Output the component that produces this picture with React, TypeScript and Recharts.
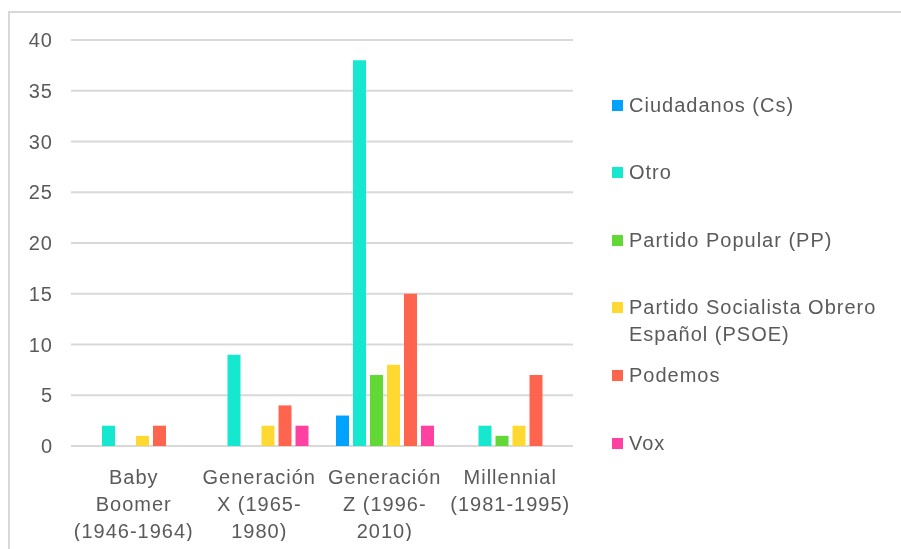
import React from "react";
import { BarChart, Bar, XAxis, YAxis, CartesianGrid } from "recharts";

const generations = [
  ["Baby", "Boomer", "(1946-1964)"],
  ["Generación", "X (1965-", "1980)"],
  ["Generación", "Z (1996-", "2010)"],
  ["Millennial", "(1981-1995)"],
];
const parties = [
  "Ciudadanos (Cs)",
  "Otro",
  "Partido Popular (PP)",
  "Partido Socialista Obrero Español (PSOE)",
  "Podemos",
  "Vox",
];
const partyLines = [
  ["Ciudadanos (Cs)"],
  ["Otro"],
  ["Partido Popular (PP)"],
  ["Partido Socialista Obrero", "Español (PSOE)"],
  ["Podemos"],
  ["Vox"],
];
const colors = ["#00A2FF", "#16E7CF", "#61D836", "#FFD932", "#FF644E", "#FF42A1"];

const ciudadanos = [0, 0, 3, 0];
const otro = [2, 9, 38, 2];
const pp = [0, 0, 7, 1];
const psoe = [1, 2, 8, 2];
const podemos = [2, 4, 15, 7];
const vox = [0, 2, 2, 0];
const yTicks = [0, 5, 10, 15, 20, 25, 30, 35, 40];

const series = [ciudadanos, otro, pp, psoe, podemos, vox];
const data = generations.map((g, i) => {
  const row: Record<string, any> = { name: g.join(" "), idx: i };
  parties.forEach((p, j) => (row[p] = series[j][i]));
  return row;
});

const FONT = "'Liberation Sans', Arial, sans-serif";
const TEXT = "#5a5a5a";

const GenTick = (props: any) => {
  const { x, y, payload } = props;
  const lines = generations[payload.index] ?? [payload.value];
  return (
    <text x={x} y={y} textAnchor="middle" fill={TEXT} fontSize={20} fontFamily={FONT} letterSpacing={1}>
      {lines.map((l, i) => (
        <tspan key={i} x={x} dy={i === 0 ? 30 : 27}>
          {l}
        </tspan>
      ))}
    </text>
  );
};

// legend drawn beside the chart, one item per party
const PartyLegend = () => (
  <div style={{ position: "absolute", left: 604, top: 0, width: 281, height: 533 }}>
    {partyLines.map((lines, i) => {
      const center = 97 + i * 67.6;
      return (
        <div key={i} style={{ position: "absolute", left: 0, top: center - 13.5 }}>
          <div style={{ position: "absolute", left: 0, top: 8, width: 11, height: 11, background: colors[i] }} />
          {lines.map((l, k) => (
            <div
              key={k}
              style={{
                position: "absolute",
                left: 17,
                top: k * 27,
                lineHeight: "27px",
                fontSize: 20,
                fontFamily: FONT,
                letterSpacing: 1,
                color: TEXT,
                whiteSpace: "nowrap",
              }}
            >
              {l}
            </div>
          ))}
        </div>
      );
    })}
  </div>
);

const App: React.FC = () => {
  return (
    <div style={{ position: "relative", width: 885, height: 533 }}>
      {/* frame: only its top and left edges show in the picture */}
      <div
        style={{
          position: "fixed",
          left: 8,
          top: 11,
          right: 0,
          bottom: 0,
          borderLeft: "2px solid #d8d8d8",
          borderTop: "2px solid #d8d8d8",
        }}
      />
      <div style={{ position: "absolute", left: 0, top: 0 }}>
        <BarChart
          width={885}
          height={533}
          data={data}
          margin={{ top: 32, right: 320, bottom: 0, left: 0 }}
          barCategoryGap={14}
          barGap={4}
        >
          <CartesianGrid vertical={false} stroke="#d9d9d9" strokeWidth={2} />
          <XAxis dataKey="name" axisLine={false} tickLine={false} height={95} interval={0} tick={<GenTick />} />
          <YAxis
            width={63}
            domain={[0, 40]}
            ticks={yTicks}
            axisLine={false}
            tickLine={false}
            tickMargin={12}
            tick={{ fill: TEXT, fontSize: 20, fontFamily: FONT, letterSpacing: 1 }}
          />
          {parties.map((p, i) => (
            <Bar key={p} dataKey={p} fill={colors[i]} isAnimationActive={false} />
          ))}
        </BarChart>
      </div>
      <PartyLegend />
    </div>
  );
};

export default App;
